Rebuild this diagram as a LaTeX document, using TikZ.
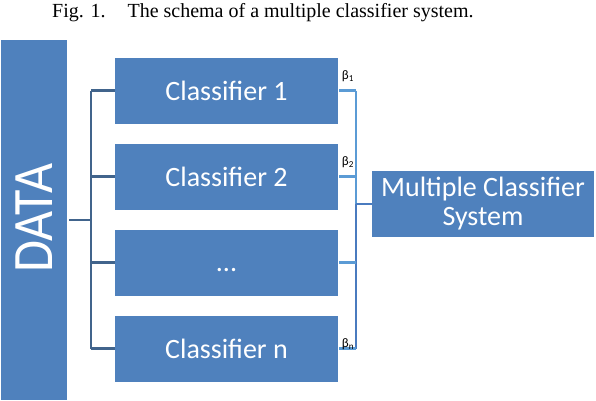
\documentclass[tikz,border=0pt]{standalone}
\usepackage{fontspec}
\setmainfont{Carlito}
\newfontfamily\capfont{Liberation Serif}
\definecolor{boxblue}{HTML}{4F81BD}
\definecolor{leftline}{HTML}{41648C}
\definecolor{rightlinea}{HTML}{5B9BD5}
\definecolor{rightlineb}{HTML}{4A7BBF}
\tikzset{
  blk/.style={fill=boxblue, draw=none, text=white, inner sep=0pt, font=\fontsize{28}{30}\selectfont, align=center},
  clf/.style={blk, minimum width=223pt, minimum height=66pt},
  lconn/.style={draw=leftline, line width=2.2pt},
  rconn/.style={draw=rightlinea, line width=2.4pt},
  rconnb/.style={draw=rightlineb, line width=2.2pt},
  betalbl/.style={font=\fontsize{13}{14}\selectfont, text=black, inner sep=0pt}
}
\begin{document}
\begin{tikzpicture}[x=1pt,y=-1pt]
\useasboundingbox (0,0) rectangle (596,400);
\node[font=\capfont\fontsize{20}{22}\selectfont, anchor=base west, inner sep=0pt] (cap) at (52,17) {Fig. 1.\hspace{22pt}The schema of a multiple classifier system.};
\node[blk, minimum width=66pt, minimum height=360pt] (data) at (34,220) {};
\node[text=white, rotate=90, inner sep=0pt, font=\fontsize{52}{54}\selectfont] (datat) at (34,218) {\scalebox{1}[1.1]{DATA}};
\node[clf] (c1) at (226.5,90.5) {Classifier 1};
\node[clf] (c2) at (226.5,176.5) {Classifier 2};
\node[clf] (c3) at (226.5,262.5) {\smash{\raisebox{-9pt}{...}}};
\node[clf] (c4) at (226.5,348.5) {Classifier n};
\node[blk, minimum width=222pt, minimum height=66pt, font=\fontsize{28}{29}\selectfont] (mcs) at (483,204) {Multiple Classifier\\System};
% left tree
\coordinate (lj) at (91,220);
\draw[lconn] ([xshift=2pt]data.east |- lj) -- (lj);
\draw[lconn] (c1.west -| lj) -- (c4.west -| lj);
\foreach \c in {c1,c2,c3,c4} \draw[lconn] (\c.west -| lj) -- (\c.west);
% right tree
\coordinate (rj) at (356,204);
\draw[rconn] (c1.east -| rj) -- (rj);
\draw[rconnb] (rj) -- (c4.east -| rj);
\foreach \c in {c1,c2,c3,c4} \draw[rconn] ([xshift=1pt]\c.east) -- (\c.east -| rj);
\draw[rconnb] (rj) -- (mcs.west);
% betas
\node[betalbl] (b1) at (348,76) {β\textsubscript{1}};
\node[betalbl] (b2) at (348,162) {β\textsubscript{2}};
\node[betalbl] (bn) at (348,344) {β\textsubscript{n}};
\end{tikzpicture}
\end{document}
